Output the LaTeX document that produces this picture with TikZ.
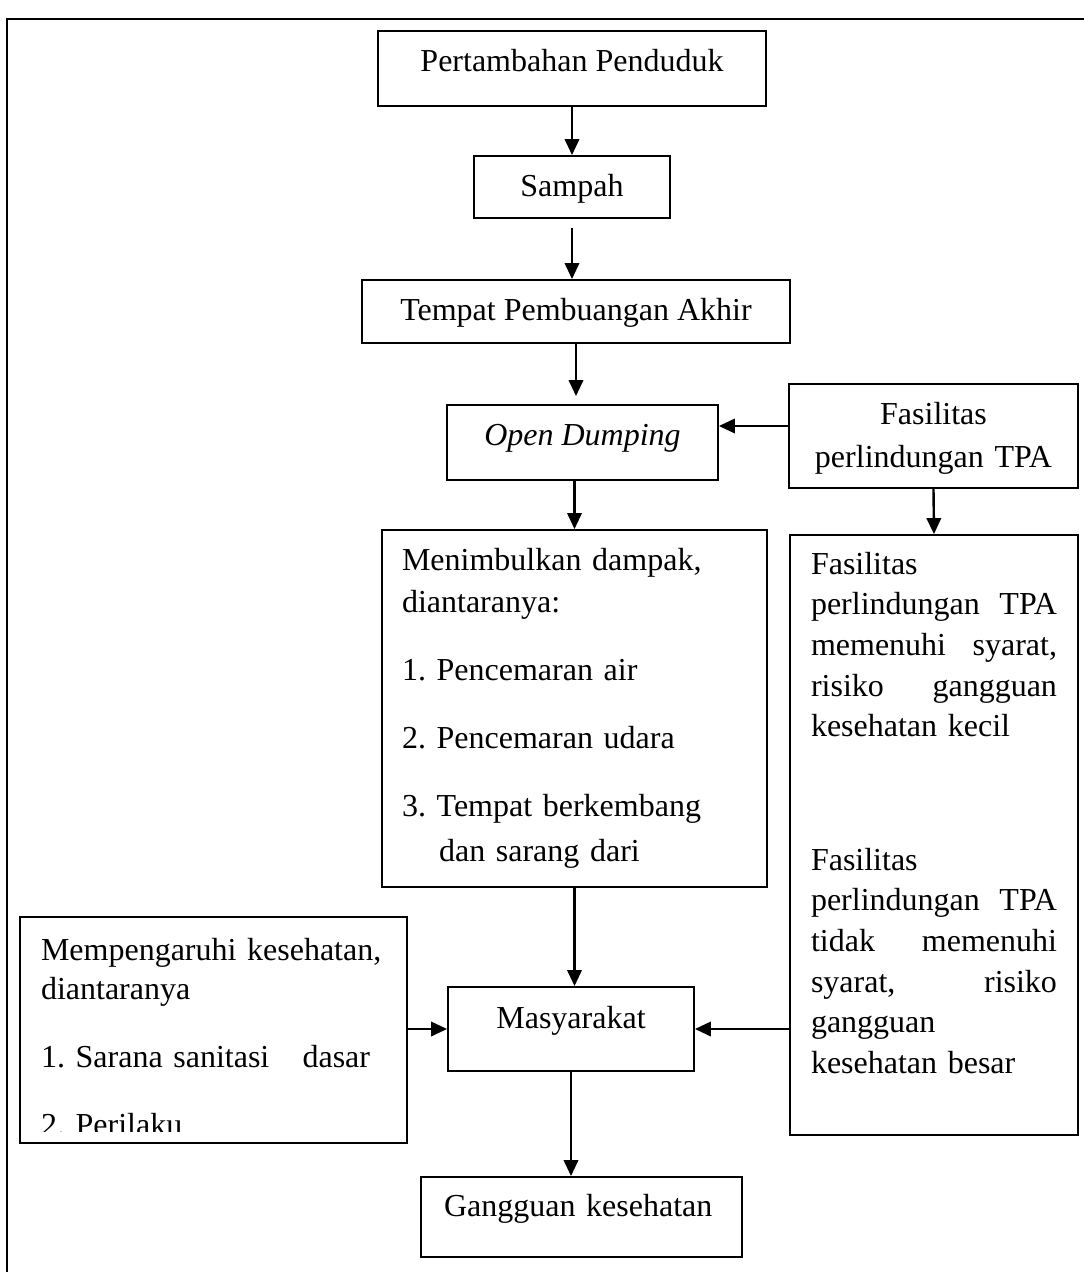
\documentclass[tikz,border=0pt]{standalone}
\usepackage{fontspec}
\setmainfont{Liberation Serif}
\usetikzlibrary{arrows.meta}

\tikzset{
	box/.style={draw, line width=0.7pt, inner sep=0pt, font=\fontsize{12pt}{15.5pt}\selectfont\frenchspacing},
	flow/.style={line width=0.9pt, -{Triangle[length=6pt,width=5.4pt]}}
}

\begin{document}
\begin{tikzpicture}[x=0.375pt,y=-0.375pt]
		\useasboundingbox (0,0) rectangle (1084,1272);
		\clip (0,0) rectangle (1084,1272);
		% open frame round the chart
		\draw[line width=0.75pt] (7,1300) -- (7,19) -- (1100,19);
		% middle column
		\node[box, minimum width=145.5pt, text height=15pt, text depth=13.125pt] (pend) at (572,68.5) {Pertambahan Penduduk};
		\node[box, minimum width=73.5pt, text height=15pt, text depth=8.25pt] (sampah) at (572,187) {Sampah};
		\node[box, minimum width=160.5pt, text height=15pt, text depth=8.625pt] (tpa) at (576,311.5) {Tempat Pembuangan Akhir};
		\node[box, minimum width=101.625pt, text height=15pt, text depth=13.125pt] (open) at (582.5,442.5) {\textit{Open Dumping}};
		\node[box, inner xsep=7.5pt, text width=129.375pt, align=left, text height=15pt, text depth=118.875pt,
			font=\fontsize{12pt}{15.75pt}\selectfont\frenchspacing] (dampak) at (574.5,708.5)
			{Menimbulkan dampak,\\
			diantaranya:\\[9.75pt]
			1. Pencemaran air\\[10.1pt]
			2. Pencemaran udara\\[9.75pt]
			3. Tempat berkembang\\[1.1pt]
			\hspace*{13.9pt}dan sarang dari};
		\node[box, minimum width=92.25pt, text height=15.375pt, text depth=16.125pt] (masy) at (571,1029) {Masyarakat};
		\node[box, inner xsep=8.625pt, text width=103.125pt, align=left, text height=14.625pt, text depth=15.375pt] (gangg) at (581.5,1217) {Gangguan kesehatan};
		% right column
		\node[box, text width=108.375pt, align=center, text height=15pt, text depth=24pt,
			font=\fontsize{12pt}{16.125pt}\selectfont\frenchspacing] (fas) at (933.5,436) {Fasilitas\\perlindungan TPA};
		\node[box, inner xsep=7.875pt, text width=92.25pt, align=left, text height=14.625pt, text depth=210.375pt,
			font=\fontsize{12pt}{15.28pt}\selectfont\frenchspacing] (kondisi) at (934,835)
			{Fasilitas\\
			perlindungan\hfill TPA\\
			memenuhi\hfill syarat,\\
			risiko\hfill gangguan\\
			kesehatan kecil\\[34.6pt]
			Fasilitas\\
			perlindungan\hfill TPA\\
			tidak\hfill memenuhi\\
			syarat,\hfill risiko\\
			gangguan\\
			kesehatan besar};
		% left column
		\node[box, inner xsep=7.875pt, text width=129.375pt, align=left, text height=16.125pt, text depth=68.625pt,
			font=\fontsize{12pt}{14.625pt}\selectfont\frenchspacing] (pengaruh) at (213.5,1030)
			{Mempengaruhi kesehatan,\\
			diantaranya\\[10.9pt]
			\leavevmode\hbox to 123.4pt{1. Sarana sanitasi\hfill dasar}\\[10.9pt]
			2. Perilaku};
		\fill[white] (22,1132) rectangle (405,1141);
		% arrows
		\draw[flow] (pend.south) -- (sampah.north);
		\draw[flow, shorten <=3.4pt] (sampah.south) -- (sampah.south |- tpa.north);
		\draw[flow, shorten >=3pt] (tpa.south) -- (tpa.south |- open.north);
		\draw[flow] (dampak.north |- open.south) -- (dampak.north);
		\draw[flow] ([yshift=3.75pt]fas.west) coordinate (fw) -- (fw -| open.east);
		\draw[flow] (fas.south) -- (kondisi.north);
		\draw[flow] (dampak.south) -- (dampak.south |- masy.north);
		\draw[flow] (pengaruh.east |- masy.west) -- (masy.west);
		\draw[flow] (kondisi.west |- masy.east) -- (masy.east);
		\draw[flow] (masy.south) -- (masy.south |- gangg.north);
	\end{tikzpicture}
\end{document}
